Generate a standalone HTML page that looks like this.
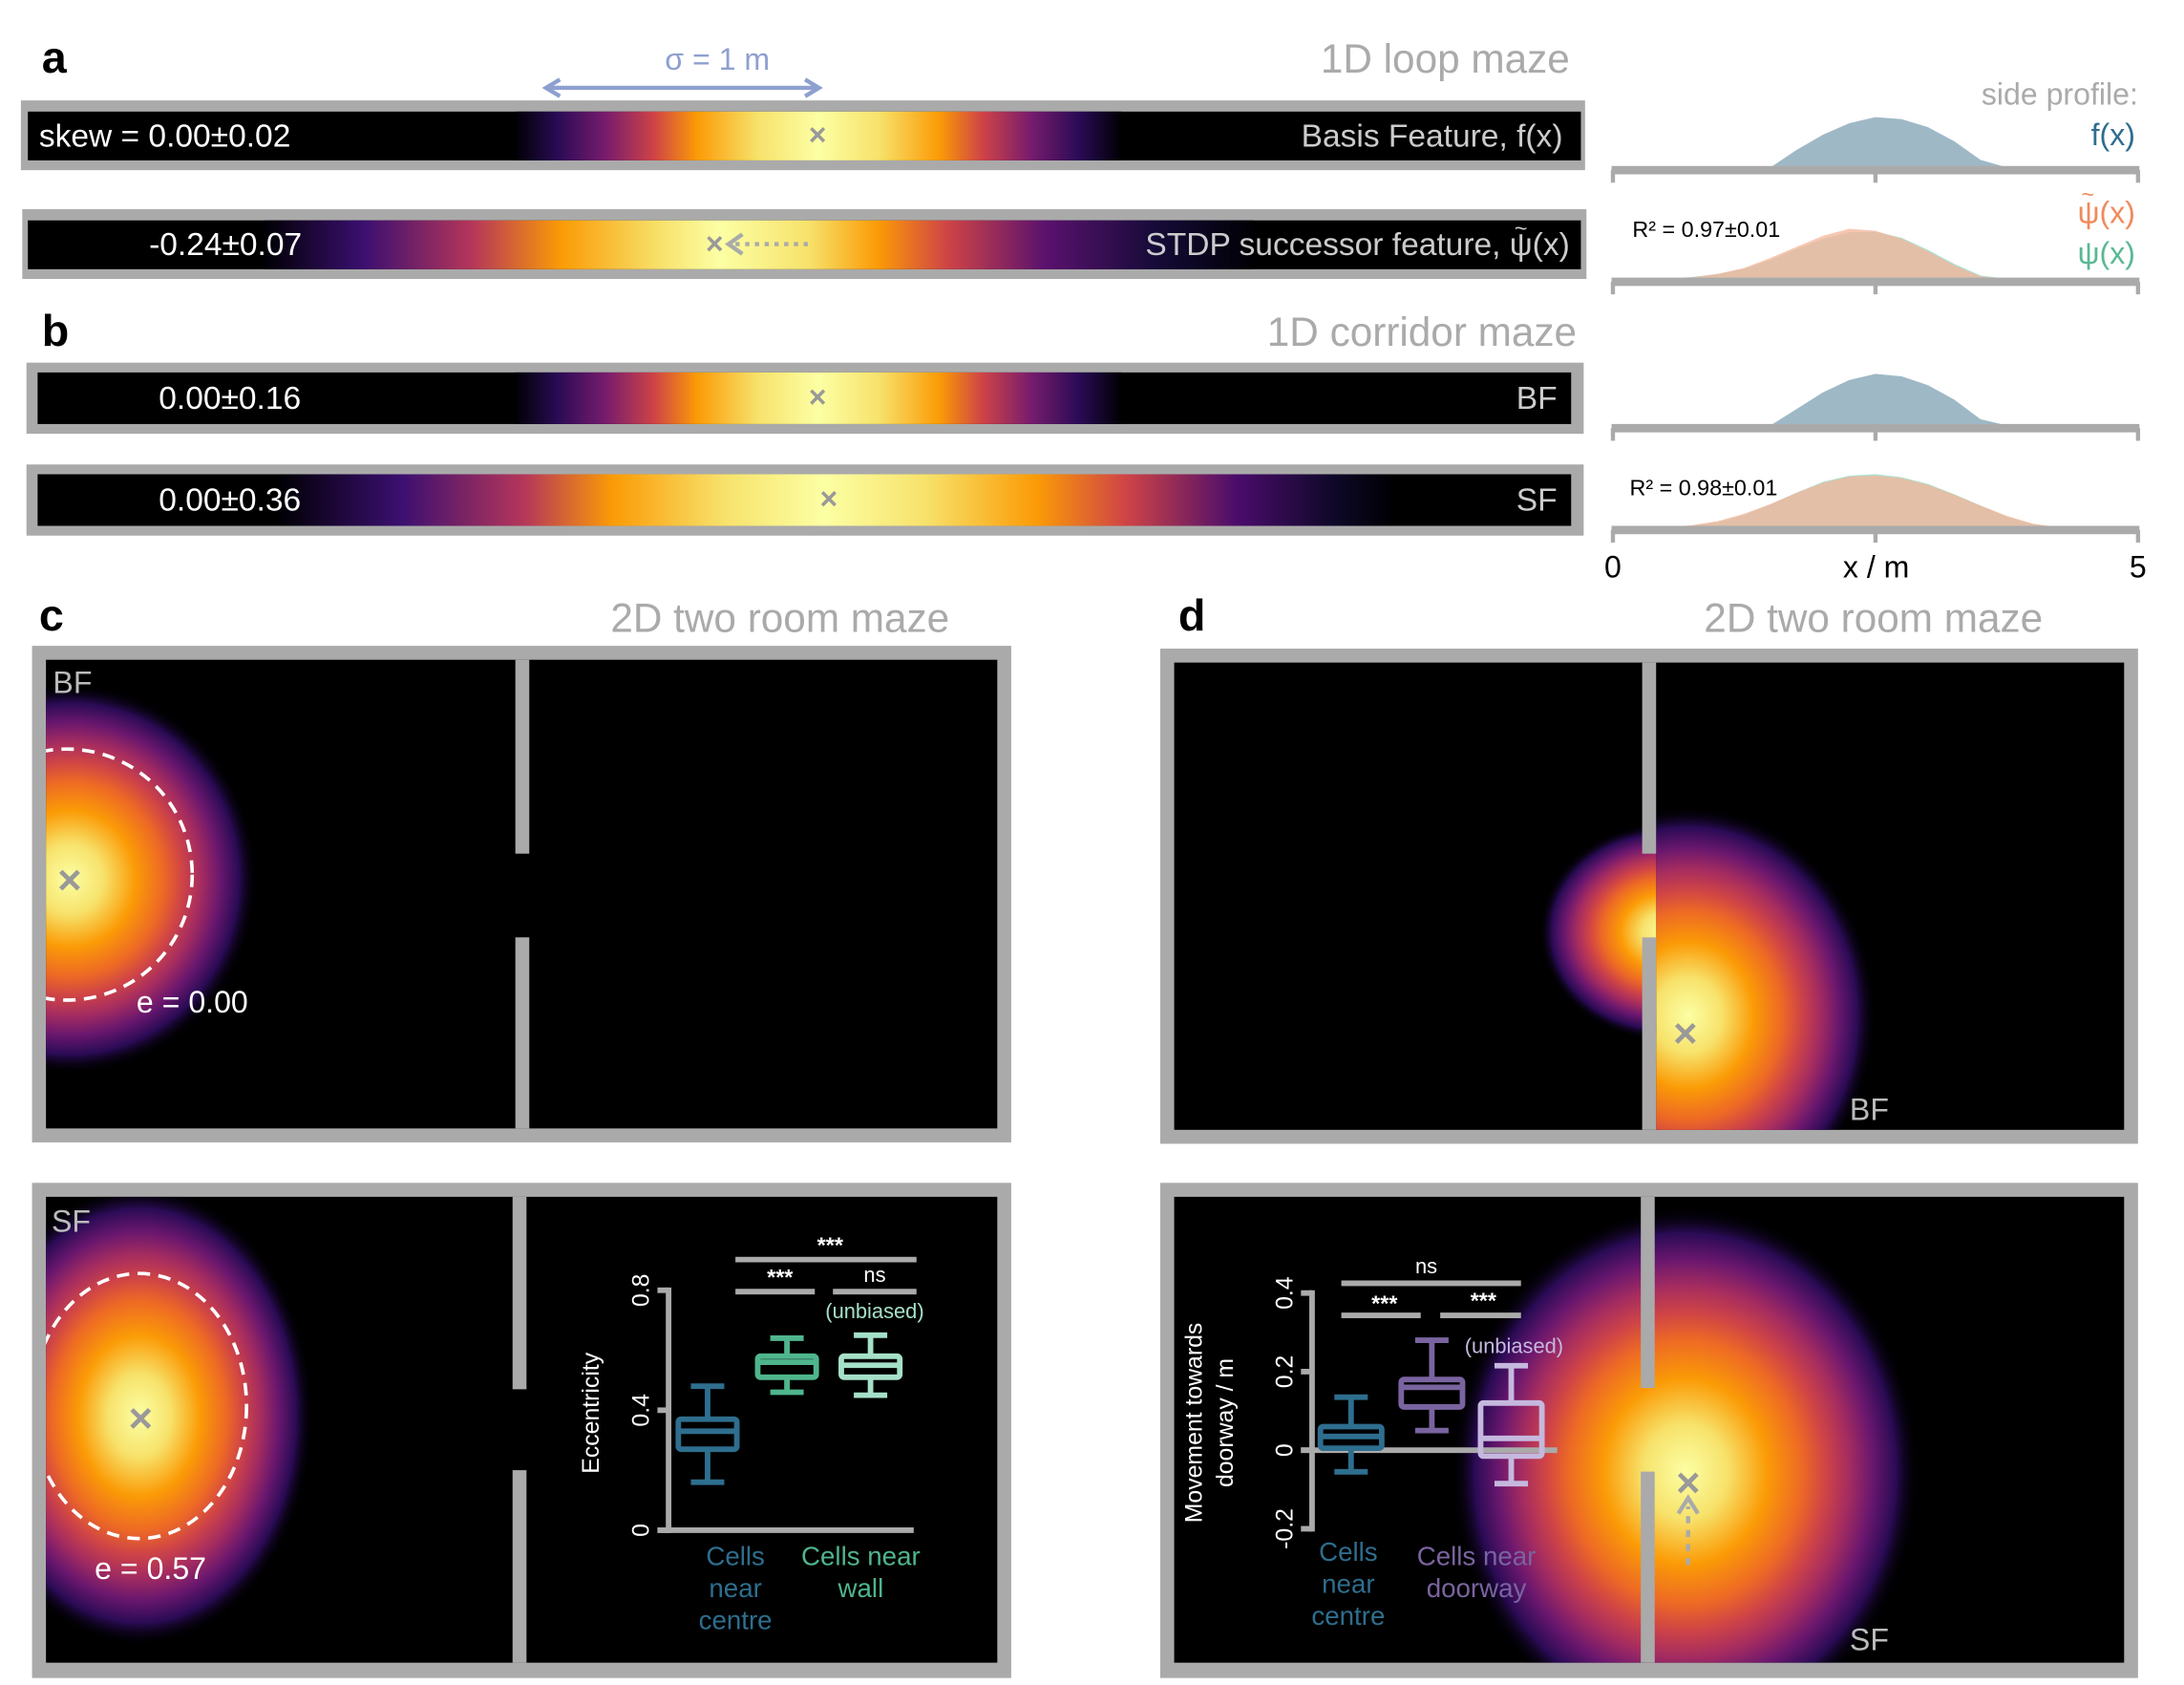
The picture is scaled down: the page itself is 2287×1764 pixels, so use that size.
<!DOCTYPE html>
<html><head><meta charset="utf-8"><style>
html,body{margin:0;padding:0;background:#fff;overflow:hidden;width:2287px;height:1764px;}
svg{display:block;font-family:"Liberation Sans",sans-serif;}
</style></head><body>
<svg id="fig" width="2287" height="1764" viewBox="0 0 1568 1208" preserveAspectRatio="none" xmlns="http://www.w3.org/2000/svg">
<defs>
<linearGradient id="g1" gradientUnits="userSpaceOnUse" x1="370" x2="805" y1="0" y2="0">
<stop offset="0" stop-color="#000004"/><stop offset="0.07" stop-color="#2a0b55"/><stop offset="0.15" stop-color="#781c6d"/><stop offset="0.23" stop-color="#cf4446"/><stop offset="0.3" stop-color="#fb9b06"/><stop offset="0.4" stop-color="#f7e26b"/><stop offset="0.5" stop-color="#fcffa4"/><stop offset="0.6" stop-color="#f7e26b"/><stop offset="0.7" stop-color="#fb9b06"/><stop offset="0.77" stop-color="#cf4446"/><stop offset="0.85" stop-color="#781c6d"/><stop offset="0.93" stop-color="#2a0b55"/><stop offset="1" stop-color="#000004"/>
</linearGradient>
<linearGradient id="g2" gradientUnits="userSpaceOnUse" x1="190" x2="900" y1="0" y2="0">
<stop offset="0" stop-color="#000004"/><stop offset="0.1" stop-color="#3b0f70"/><stop offset="0.21" stop-color="#b5365a"/><stop offset="0.3" stop-color="#fb9b06"/><stop offset="0.4" stop-color="#f7e26b"/><stop offset="0.46" stop-color="#fcffa4"/><stop offset="0.55" stop-color="#f7e26b"/><stop offset="0.62" stop-color="#fb9b06"/><stop offset="0.69" stop-color="#cf4446"/><stop offset="0.79" stop-color="#5a116e"/><stop offset="0.9" stop-color="#160b39"/><stop offset="1" stop-color="#000004"/>
</linearGradient>
<linearGradient id="g4" gradientUnits="userSpaceOnUse" x1="200" x2="1000" y1="0" y2="0">
<stop offset="0" stop-color="#000004"/><stop offset="0.11" stop-color="#3b0f70"/><stop offset="0.22" stop-color="#b5365a"/><stop offset="0.3" stop-color="#fb9b06"/><stop offset="0.4" stop-color="#f7e26b"/><stop offset="0.49" stop-color="#fcffa4"/><stop offset="0.58" stop-color="#f7e26b"/><stop offset="0.68" stop-color="#fb9b06"/><stop offset="0.76" stop-color="#cf4446"/><stop offset="0.86" stop-color="#4a0c6b"/><stop offset="0.95" stop-color="#0d0826"/><stop offset="1" stop-color="#000004"/>
</linearGradient>
<radialGradient id="rg">
<stop offset="0" stop-color="#fcffa4"/><stop offset="0.18" stop-color="#f7e26b"/><stop offset="0.35" stop-color="#fb9b06"/><stop offset="0.5" stop-color="#ed6925"/><stop offset="0.6" stop-color="#cf4446"/><stop offset="0.7" stop-color="#a52c60"/><stop offset="0.8" stop-color="#6a176e"/><stop offset="0.9" stop-color="#2a0b55"/><stop offset="1" stop-color="#000004" stop-opacity="0"/>
</radialGradient>
<clipPath id="cc1"><rect x="33" y="473" width="337" height="336"/></clipPath>
<clipPath id="cc2"><rect x="33" y="858" width="335" height="334"/></clipPath>
<clipPath id="cd1r"><rect x="1189" y="475" width="336" height="335"/></clipPath>
<clipPath id="cd1l"><rect x="843" y="475" width="346" height="335"/></clipPath>
<clipPath id="cd2"><rect x="843" y="858" width="682" height="334"/></clipPath>
</defs>

<!-- panel a -->
<text x="30" y="52" font-size="32" font-weight="bold">a</text>
<text x="515" y="50" font-size="22" fill="#8ea0d0" text-anchor="middle">σ = 1 m</text>
<g stroke="#8ea0d0" stroke-width="3" fill="none">
<line x1="392" y1="63" x2="588" y2="63"/><polyline points="402,57 392,63 402,69"/><polyline points="578,57 588,63 578,69"/></g>
<text x="1127" y="52" font-size="29" fill="#aaa" text-anchor="end">1D loop maze</text>

<g>
<rect x="15" y="72" width="1123" height="50" fill="#aaa"/><rect x="20" y="80" width="1115" height="35" fill="#000"/>
<rect x="370" y="80" width="435" height="35" fill="url(#g1)"/>
<text x="28" y="105" font-size="23" fill="#fff">skew = 0.00±0.02</text>
<text x="1122" y="105" font-size="23" fill="#ccc" text-anchor="end">Basis Feature, f(x)</text>
<text x="587" y="104" font-size="22" fill="#999" text-anchor="middle" font-weight="bold">×</text></g>

<g>
<rect x="16" y="150" width="1123" height="50" fill="#aaa"/><rect x="20" y="158" width="1115" height="35" fill="#000"/>
<rect x="190" y="158" width="710" height="35" fill="url(#g2)"/>
<text x="107" y="183" font-size="23" fill="#fff">-0.24±0.07</text>
<text x="1127" y="183" font-size="23" fill="#ccc" text-anchor="end">STDP successor feature, ψ(x)</text>
<text x="1092" y="169" font-size="16" fill="#ccc" text-anchor="middle">~</text>
<text x="513" y="182" font-size="22" fill="#999" text-anchor="middle" font-weight="bold">×</text>
<line x1="528" y1="175" x2="583" y2="175" stroke="#aaa" stroke-width="3" stroke-dasharray="3,4"/>
<polyline points="533,168 523,175 533,182" stroke="#aaa" stroke-width="3" fill="none"/></g>

<!-- panel b -->
<text x="30" y="248" font-size="32" font-weight="bold">b</text>
<text x="1132" y="248" font-size="29" fill="#aaa" text-anchor="end">1D corridor maze</text>
<g>
<rect x="19" y="260" width="1118" height="51" fill="#aaa"/><rect x="27" y="267" width="1101" height="37" fill="#000"/>
<rect x="370" y="267" width="435" height="37" fill="url(#g1)"/>
<text x="114" y="293" font-size="23" fill="#fff">0.00±0.16</text>
<text x="1118" y="293" font-size="23" fill="#ccc" text-anchor="end">BF</text>
<text x="587" y="292" font-size="22" fill="#999" text-anchor="middle" font-weight="bold">×</text></g>
<g>
<rect x="19" y="333" width="1118" height="51" fill="#aaa"/><rect x="27" y="340" width="1101" height="37" fill="#000"/>
<rect x="200" y="340" width="800" height="37" fill="url(#g4)"/>
<text x="114" y="366" font-size="23" fill="#fff">0.00±0.36</text>
<text x="1118" y="366" font-size="23" fill="#ccc" text-anchor="end">SF</text>
<text x="595" y="365" font-size="22" fill="#999" text-anchor="middle" font-weight="bold">×</text></g>

<!-- side profiles -->
<g id="profiles"></g>
<text x="1535" y="75" font-size="22" fill="#aaa" text-anchor="end">side profile:</text>
<text x="1533" y="104" font-size="22" fill="#2e6e8e" text-anchor="end">f(x)</text>
<text x="1172" y="170" font-size="16">R² = 0.97±0.01</text>
<text x="1533" y="160" font-size="22" fill="#f08a5d" text-anchor="end">ψ(x)</text>
<text x="1499" y="145" font-size="16" fill="#f08a5d" text-anchor="middle">~</text>
<text x="1533" y="189" font-size="22" fill="#5ab893" text-anchor="end">ψ(x)</text>
<text x="1170" y="355" font-size="16">R² = 0.98±0.01</text>
<text x="1158" y="414" font-size="22" text-anchor="middle">0</text>
<text x="1347" y="414" font-size="22" text-anchor="middle">x / m</text>
<text x="1535" y="414" font-size="22" text-anchor="middle">5</text>

<!-- panel c -->
<text x="28" y="452" font-size="32" font-weight="bold">c</text>
<text x="560" y="453" font-size="29" fill="#aaa" text-anchor="middle">2D two room maze</text>
<g>
<rect x="23" y="463" width="703" height="356" fill="#aaa"/><rect x="33" y="473" width="683" height="336" fill="#000"/>
<g clip-path="url(#cc1)"><ellipse cx="50" cy="630" rx="135" ry="140" fill="url(#rg)"/></g>
<rect x="370" y="473" width="10" height="139" fill="#aaa"/><rect x="370" y="672" width="10" height="137" fill="#aaa"/>
<g clip-path="url(#cc1)"><circle cx="48" cy="627" r="90" fill="none" stroke="#fff" stroke-width="2.5" stroke-dasharray="9,6"/></g>
<text x="38" y="497" font-size="22" fill="#bbb">BF</text>
<text x="50" y="641" font-size="30" fill="#999" text-anchor="middle" font-weight="bold">×</text>
<text x="98" y="726" font-size="22" fill="#fff">e = 0.00</text></g>
<g>
<rect x="23" y="848" width="703" height="355" fill="#aaa"/><rect x="33" y="858" width="683" height="334" fill="#000"/>
<g clip-path="url(#cc2)"><ellipse cx="100" cy="1015" rx="125" ry="165" fill="url(#rg)"/></g>
<rect x="368" y="858" width="10" height="138" fill="#aaa"/><rect x="368" y="1054" width="10" height="138" fill="#aaa"/>
<g clip-path="url(#cc2)"><ellipse cx="100" cy="1008" rx="77" ry="95" fill="none" stroke="#fff" stroke-width="2.5" stroke-dasharray="9,6"/></g>
<text x="37" y="883" font-size="22" fill="#bbb">SF</text>
<text x="101" y="1027" font-size="30" fill="#999" text-anchor="middle" font-weight="bold">×</text>
<text x="68" y="1132" font-size="22" fill="#fff">e = 0.57</text></g>
<g id="insetC"></g>

<!-- panel d -->
<text x="846" y="452" font-size="32" font-weight="bold">d</text>
<text x="1345" y="453" font-size="29" fill="#aaa" text-anchor="middle">2D two room maze</text>
<g>
<rect x="833" y="465" width="702" height="355" fill="#aaa"/><rect x="843" y="475" width="682" height="335" fill="#000"/>
<g clip-path="url(#cd1r)"><ellipse cx="1212" cy="728" rx="135" ry="150" fill="url(#rg)"/></g>
<g clip-path="url(#cd1l)"><ellipse cx="1195" cy="668" rx="90" ry="78" fill="url(#rg)"/></g>
<rect x="1179" y="475" width="10" height="137" fill="#aaa"/><rect x="1179" y="672" width="10" height="138" fill="#aaa"/>
<text x="1210" y="751" font-size="30" fill="#999" text-anchor="middle" font-weight="bold">×</text>
<text x="1328" y="803" font-size="22" fill="#bbb">BF</text></g>
<g>
<rect x="833" y="848" width="702" height="355" fill="#aaa"/><rect x="843" y="858" width="682" height="334" fill="#000"/>
<g clip-path="url(#cd2)"><ellipse cx="1210" cy="1055" rx="168" ry="190" fill="url(#rg)"/></g>
<rect x="1178" y="858" width="10" height="137" fill="#aaa"/><rect x="1178" y="1055" width="10" height="137" fill="#aaa"/>
<text x="1212" y="1073" font-size="30" fill="#999" text-anchor="middle" font-weight="bold">×</text>
<line x1="1212" y1="1122" x2="1212" y2="1080" stroke="#aaa" stroke-width="3" stroke-dasharray="5,5"/>
<polyline points="1205,1085 1212,1074 1219,1085" stroke="#aaa" stroke-width="3" fill="none"/>
<text x="1328" y="1183" font-size="22" fill="#bbb">SF</text></g>
<g id="insetD"></g>
</svg>
<script>
// ---- profile data (x in m, normalized height) ----
const profX = [0.5,0.75,1,1.25,1.5,1.75,2,2.25,2.5,2.75,3,3.25,3.5,3.75,4,4.25];
const loopF = [0,0,0,0,0,0.35,0.65,0.88,1.0,0.96,0.8,0.52,0.15,0,0,0];
const loopPsiT = [0,0.03,0.1,0.22,0.42,0.64,0.86,1.0,0.96,0.8,0.55,0.27,0.05,0,0,0];
const loopPsi = [0,0.04,0.1,0.2,0.38,0.6,0.8,0.93,0.94,0.82,0.58,0.3,0.07,0,0,0];
const corrF = [0,0,0,0,0,0.32,0.64,0.88,1.0,0.95,0.78,0.5,0.12,0,0,0];
const corrPsiT = [0,0.04,0.12,0.26,0.45,0.67,0.86,0.98,1.0,0.95,0.82,0.63,0.42,0.22,0.07,0];
const corrPsi = [0,0.03,0.1,0.24,0.44,0.67,0.88,1.0,1.03,0.97,0.84,0.64,0.42,0.21,0.06,0];
const NS='http://www.w3.org/2000/svg';
function mk(tag,attrs,parent){const e=document.createElementNS(NS,tag);for(const k in attrs)e.setAttribute(k,attrs[k]);parent.appendChild(e);return e;}
const px = x => 1158 + x*(1535-1158)/5;
const prof = document.getElementById('profiles');
function area(vals,base,h,color,op,name){
  let d='M'+px(profX[0])+','+base;
  vals.forEach((v,i)=>{d+=' L'+px(profX[i])+','+(base-v*h);});
  d+=' L'+px(profX[profX.length-1])+','+base+' Z';
  const p=mk('path',{d:d,fill:color,'fill-opacity':op},prof);
  
  
}
function axis(base,name){
  const g=mk('g',{},prof);
  
  
  mk('line',{x1:1157,x2:1536,y1:base,y2:base,stroke:'#aaa','stroke-width':6},g);
  [0,2.5,5].forEach(t=>mk('line',{x1:px(t),x2:px(t),y1:base,y2:base+9,stroke:'#aaa','stroke-width':3},g));
}
area(loopF,120,36,'#9fb8c6',1,'profile-loop-f');
axis(122,'profile-axis-1');
area(loopPsi,200,36,'#a9dcc8',0.9,'profile-loop-psi');
area(loopPsiT,200,36,'#f4b49a',0.75,'profile-loop-psi-tilde');
axis(202,'profile-axis-2');
area(corrF,305,37,'#9fb8c6',1,'profile-corridor-f');
axis(307,'profile-axis-3');
area(corrPsi,378,37,'#a9dcc8',0.9,'profile-corridor-psi');
area(corrPsiT,378,37,'#f4b49a',0.75,'profile-corridor-psi-tilde');
axis(380,'profile-axis-4');

// ---- inset C: eccentricity ----
const cCats = ['near-centre','near-wall','unbiased'];
const cWhiskLo = [0.16,0.46,0.45];
const cQ1 = [0.27,0.51,0.51];
const cMed = [0.33,0.56,0.55];
const cQ3 = [0.37,0.58,0.58];
const cWhiskHi = [0.48,0.64,0.65];
const cTicks = [0,0.4,0.8];
const cColors = ['#2e6e8e','#4fb58c','#a5e0c8'];
// ---- inset D: movement ----
const dCats = ['near-centre','near-doorway','unbiased'];
const dWhiskLo = [-0.055,0.05,-0.085];
const dQ1 = [0.005,0.11,-0.015];
const dMed = [0.035,0.16,0.03];
const dQ3 = [0.06,0.18,0.12];
const dWhiskHi = [0.135,0.28,0.215];
const dTicks = [-0.2,0,0.2,0.4];
const dColors = ['#2e6e8e','#7a64a0','#c5b8de'];

function boxplot(gid,o){
  const g=document.getElementById(gid);
  const ys=v=>o.y0 - (v-o.vmin)*(o.y0-o.y1)/(o.vmax-o.vmin);
  mk('line',{x1:o.ax,x2:o.ax,y1:ys(o.vmax)-2,y2:ys(o.vmin)+2,stroke:'#aaa','stroke-width':4},g);
  o.ticks.forEach(t=>{
    mk('line',{x1:o.ax-8,x2:o.ax,y1:ys(t),y2:ys(t),stroke:'#aaa','stroke-width':4},g);
    const tx=mk('text',{x:o.ax-14,y:ys(t),'font-size':17,fill:'#fff','text-anchor':'middle',transform:'rotate(-90 '+(o.ax-14)+' '+ys(t)+')'},g);
    tx.textContent=String(t);
    
    
  });
  mk('line',{x1:o.ax-8,x2:o.xend,y1:ys(o.zero),y2:ys(o.zero),stroke:'#aaa','stroke-width':4},g);
  o.cats.forEach((c,i)=>{
    const cx=o.xs[i], w=o.bw, col=o.colors[i];
    const b=mk('g',{stroke:col,'stroke-width':4,fill:'none'},g);
    
    
    mk('line',{x1:cx,x2:cx,y1:ys(o.hi[i]),y2:ys(o.q3[i])},b);
    mk('line',{x1:cx,x2:cx,y1:ys(o.q1[i]),y2:ys(o.lo[i])},b);
    mk('line',{x1:cx-12,x2:cx+12,y1:ys(o.hi[i]),y2:ys(o.hi[i])},b);
    mk('line',{x1:cx-12,x2:cx+12,y1:ys(o.lo[i]),y2:ys(o.lo[i])},b);
    mk('rect',{x:cx-w/2,y:ys(o.q3[i]),width:w,height:ys(o.q1[i])-ys(o.q3[i]),rx:2},b);
    mk('line',{x1:cx-w/2,x2:cx+w/2,y1:ys(o.med[i]),y2:ys(o.med[i])},b);
  });
}
boxplot('insetC',{ax:480,xend:656,y0:1097,y1:925,vmin:0,vmax:0.8,zero:0,ticks:cTicks,cats:cCats,xs:[508,565,625],bw:42,colors:cColors,lo:cWhiskLo,q1:cQ1,med:cMed,q3:cQ3,hi:cWhiskHi});
boxplot('insetD',{ax:942,xend:1118,y0:1096,y1:927,vmin:-0.2,vmax:0.4,zero:0,ticks:dTicks,cats:dCats,xs:[970,1028,1085],bw:44,colors:dColors,lo:dWhiskLo,q1:dQ1,med:dMed,q3:dQ3,hi:dWhiskHi});
</script>
<script>
(function(){
const s=document.getElementById('fig');
const add=(html)=>{const g=document.createElementNS('http://www.w3.org/2000/svg','g');g.innerHTML=html;s.appendChild(g);return g;};
const c=add(`
<line x1="528" x2="658" y1="903" y2="903" stroke="#aaa" stroke-width="4"/>
<text x="596" y="898" font-size="16" fill="#fff" text-anchor="middle" font-weight="bold">***</text>
<line x1="528" x2="585" y1="926" y2="926" stroke="#aaa" stroke-width="4"/>
<text x="560" y="921" font-size="16" fill="#fff" text-anchor="middle" font-weight="bold">***</text>
<line x1="598" x2="658" y1="926" y2="926" stroke="#aaa" stroke-width="4"/>
<text x="628" y="919" font-size="15" fill="#fff" text-anchor="middle">ns</text>
<text x="628" y="945" font-size="15" fill="#a5e0c8" text-anchor="middle">(unbiased)</text>
<text x="430" y="1013" font-size="17" fill="#fff" text-anchor="middle" transform="rotate(-90 430 1013)">Eccentricity</text>
<text font-size="19" fill="#2e6e8e" text-anchor="middle"><tspan x="528" y="1122">Cells</tspan><tspan x="528" y="1145">near</tspan><tspan x="528" y="1168">centre</tspan></text>
<text font-size="19" fill="#4fb58c" text-anchor="middle"><tspan x="618" y="1122">Cells near</tspan><tspan x="618" y="1145">wall</tspan></text>`);


const d=add(`
<line x1="963" x2="1092" y1="920" y2="920" stroke="#aaa" stroke-width="4"/>
<text x="1024" y="913" font-size="15" fill="#fff" text-anchor="middle">ns</text>
<line x1="963" x2="1020" y1="943" y2="943" stroke="#aaa" stroke-width="4"/>
<text x="994" y="940" font-size="16" fill="#fff" text-anchor="middle" font-weight="bold">***</text>
<line x1="1034" x2="1092" y1="943" y2="943" stroke="#aaa" stroke-width="4"/>
<text x="1065" y="938" font-size="16" fill="#fff" text-anchor="middle" font-weight="bold">***</text>
<text x="1087" y="970" font-size="15" fill="#c5b8de" text-anchor="middle">(unbiased)</text>
<text font-size="17" fill="#fff" text-anchor="middle" transform="rotate(-90 870 1020)"><tspan x="870" y="1013">Movement towards</tspan><tspan x="870" y="1035">doorway / m</tspan></text>
<text font-size="19" fill="#2e6e8e" text-anchor="middle"><tspan x="968" y="1119">Cells</tspan><tspan x="968" y="1142">near</tspan><tspan x="968" y="1165">centre</tspan></text>
<text font-size="19" fill="#7a64a0" text-anchor="middle"><tspan x="1060" y="1122">Cells near</tspan><tspan x="1060" y="1145">doorway</tspan></text>`);


})();
</script>
</body></html>
